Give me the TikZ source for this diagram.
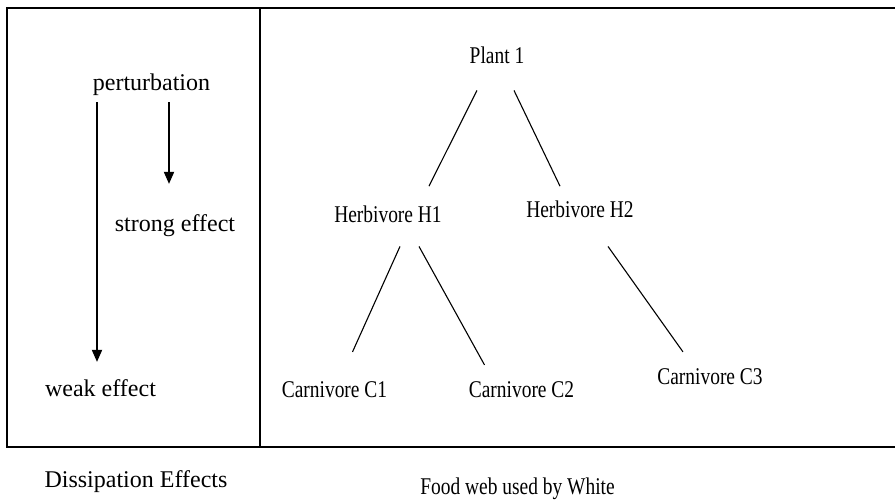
\documentclass[tikz,border=0pt]{standalone}
\usepackage{fontspec}
\setmainfont{Liberation Serif}
\newfontfamily\narrowserif{Liberation Serif}[FakeStretch=0.81]
\usepackage{tikz}
\usetikzlibrary{arrows.meta}

\begin{document}
\begin{tikzpicture}[
    x=1pt, y=-1pt,
    effect/.style={inner sep=0pt, anchor=base, font=\fontsize{24}{28}\selectfont},
    species/.style={inner sep=0pt, anchor=base, font=\fontsize{24}{28}\selectfont\narrowserif},
    link/.style={line width=1.1pt},
    arrow/.style={-{Triangle[length=12pt, width=10pt]}, line width=1.8pt},
    frame/.style={line width=1.3pt}
  ]
  \useasboundingbox (0,0) rectangle (895,501);

  % frame of the two panels
  \draw[frame] (895,8) -- (7,8) -- (7,447) -- (895,447);
  \draw[frame] (260,8) -- (260,447);

  % dissipation panel
  \node[effect] (pert)   at (151.5, 90) {perturbation};
  \node[effect] (strong) at (175, 231)  {strong effect};
  \node[effect] (weak)   at (100.5, 396) {weak effect};
  \node[effect] (dtitle) at (136, 487)  {Dissipation Effects};

  \draw[arrow] ([shift={(-54.5,7)}]pert.south) -- ([shift={(-3.5,-17)}]weak.north);
  \draw[arrow] ([shift={(17.5,7)}]pert.south) -- ([shift={(-6,-30)}]strong.north);

  % food web panel
  \node[species] (P)  at (497, 63)   {Plant 1};
  \node[species] (H1) at (388, 222)  {Herbivore H1};
  \node[species] (H2) at (580, 217)  {Herbivore H2};
  \node[species] (C1) at (334.5, 397) {Carnivore C1};
  \node[species] (C2) at (521.5, 397) {Carnivore C2};
  \node[species] (C3) at (710, 384)  {Carnivore C3};
  \node[species] (ftitle) at (517.5, 494) {Food web used by White};

  \draw[link] ([shift={(-20,27)}]P.south) -- ([shift={(41,-19)}]H1.north);
  \draw[link] ([shift={(17,27)}]P.south) -- ([shift={(-20,-14)}]H2.north);
  \draw[link] ([shift={(12,24)}]H1.south) -- ([shift={(18,-29)}]C1.north);
  \draw[link] ([shift={(31,24)}]H1.south) -- ([shift={(-37,-16)}]C2.north);
  \draw[link] ([shift={(28,29)}]H2.south) -- ([shift={(-27,-16)}]C3.north);
\end{tikzpicture}
\end{document}
